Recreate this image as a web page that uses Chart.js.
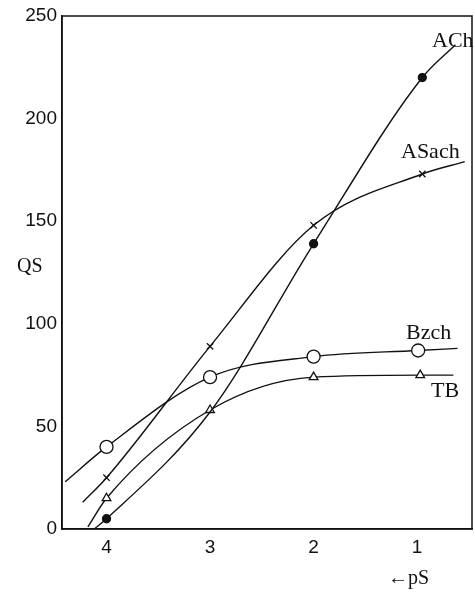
<!DOCTYPE html>
<html>
<head>
<meta charset="utf-8">
<script src="https://cdn.jsdelivr.net/npm/chart.js@4/dist/chart.umd.min.js"></script>
<style>
  html, body { margin: 0; padding: 0; background: #fff; }
  #wrap { width: 475px; height: 592px; position: relative; }
</style>
</head>
<body>
<div id="wrap"><canvas id="c"></canvas></div>
<script>
// values (pS on x, QS on y); end points carry no marker
const pSACh   = [4.12, 4, 3, 2, 0.95, 0.63];
const qsACh   = [0, 5, 57, 139, 220, 236];
const markACh = [0, 1, 0, 1, 1, 0];

const pSASach   = [4.23, 4, 3, 2, 0.95, 0.54];
const qsASach   = [13, 25, 89, 148, 173, 179];
const markASach = [0, 1, 1, 1, 1, 0];

const pSBzch   = [4.4, 4, 3, 2, 0.99, 0.61];
const qsBzch   = [23, 40, 74, 84, 87, 88];
const markBzch = [0, 1, 1, 1, 1, 0];

const pSTB   = [4.18, 4, 3, 2, 0.97, 0.65];
const qsTB   = [1, 15, 58, 74, 75, 75];
const markTB = [0, 1, 1, 1, 1, 0];

const xTicks = [4, 3, 2, 1];
const yTicks = [0, 50, 100, 150, 200, 250];

const seriesLabels = ['ACh', 'ASach', 'Bzch', 'TB'];

const pts = (xs, ys) => xs.map((x, i) => ({ x: x, y: ys[i] }));

function series(label, xs, ys, marks, style, r, fill) {
    return {
        label: label,
        data: pts(xs, ys),
        borderColor: '#111',
        borderWidth: 1.4,
        cubicInterpolationMode: 'monotone',
        pointStyle: style,
        pointRadius: marks.map(m => m ? r : 0),
        pointBorderColor: '#111',
        pointBorderWidth: 1.3,
        pointBackgroundColor: fill,
        showLine: true,
        fill: false
    };
}

const serif = '"Liberation Serif", "DejaVu Serif", serif';
const sans  = '"Liberation Sans", "DejaVu Sans", sans-serif';

// draws the box, the curve names and the axis titles
const frame = {
    id: 'frame',
    afterDraw(chart) {
        const { ctx, chartArea: a } = chart;
        ctx.save();
        ctx.strokeStyle = '#111';
        ctx.lineWidth = 1.5;
        ctx.strokeRect(a.left, a.top, a.right - a.left, a.bottom - a.top);

        ctx.fillStyle = '#111';
        ctx.font = '22px ' + serif;
        ctx.textBaseline = 'middle';
        ctx.textAlign = 'left';
        ctx.fillText(seriesLabels[0], 432, 41);
        ctx.fillText(seriesLabels[1], 401, 152);
        ctx.fillText(seriesLabels[2], 406, 333);
        ctx.fillText(seriesLabels[3], 431, 391);

        ctx.font = '20px ' + serif;
        ctx.fillText('QS', 17, 267);
        ctx.fillText('\u2190pS', 388, 579);
        ctx.restore();
    }
};

new Chart(document.getElementById('c'), {
    type: 'scatter',
    data: {
        datasets: [
            series('ACh', pSACh, qsACh, markACh, 'circle', 4, '#111'),
            series('ASach', pSASach, qsASach, markASach, 'crossRot', 4.5, '#fff'),
            series('Bzch', pSBzch, qsBzch, markBzch, 'circle', 6.5, '#fff'),
            series('TB', pSTB, qsTB, markTB, 'triangle', 5, '#fff')
        ]
    },
    options: {
        responsive: true,
        maintainAspectRatio: false,
        animation: false,
        layout: { padding: { top: 16, right: 3, left: 0, bottom: 0 } },
        plugins: { legend: { display: false }, tooltip: { enabled: false } },
        scales: {
            x: {
                type: 'linear',
                reverse: true,
                min: 0.47,
                max: 4.43,
                afterBuildTicks: s => { s.ticks = xTicks.map(v => ({ value: v })); },
                afterFit: s => { s.height = 63; },
                grid: { display: false, drawTicks: true, tickLength: 5, color: '#111' },
                border: { display: true, color: '#111', width: 1.5 },
                ticks: { color: '#111', padding: 2, font: { family: sans, size: 19 } }
            },
            y: {
                min: 0,
                max: 250,
                afterBuildTicks: s => { s.ticks = yTicks.map(v => ({ value: v })); },
                afterFit: s => { s.width = 62; },
                grid: { display: false, drawTicks: true, tickLength: 4, color: '#111' },
                border: { display: true, color: '#111', width: 1.5 },
                ticks: { color: '#111', padding: 1, font: { family: sans, size: 19 } }
            }
        }
    },
    plugins: [frame]
});
</script>
</body>
</html>
